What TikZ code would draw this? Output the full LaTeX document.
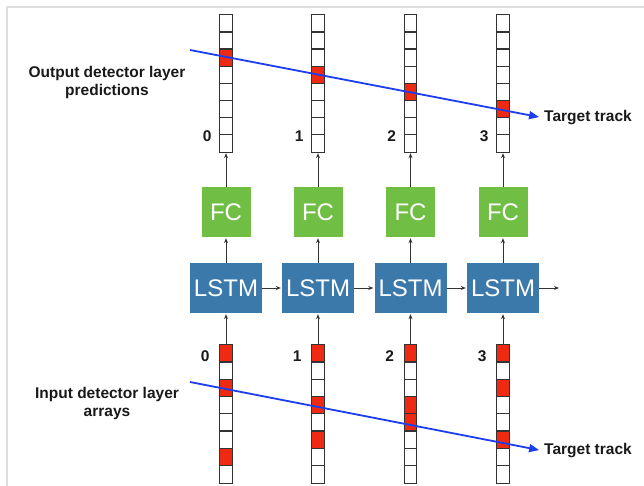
\documentclass[tikz,border=0pt]{standalone}
\usepackage{fontspec}
\setmainfont{Liberation Sans}
\usetikzlibrary{calc,arrows.meta}

\definecolor{fcgreen}{RGB}{112,190,68}
\definecolor{lstmblue}{RGB}{60,121,171}
\definecolor{cellred}{RGB}{238,42,18}
\definecolor{trackblue}{RGB}{28,62,238}
\definecolor{framegray}{RGB}{222,222,222}

\begin{document}
\begin{tikzpicture}[x=1pt,y=-1pt]
 \tikzstyle{arrow}   = [-{Stealth[length=5pt,width=4pt]},shorten >=1pt,line width=0.8pt,draw=black!80];
 \tikzstyle{track}   = [-{Triangle[length=10pt,width=8pt]},shorten >=5pt,line width=1.8pt,draw=trackblue];
 \tikzstyle{detcol}  = [minimum width=12pt,inner sep=0pt];
 \tikzstyle{colline} = [draw=black!80,line width=1.2pt];
 \tikzstyle{fcbox}   = [fill=fcgreen,minimum width=49pt,minimum height=50pt,inner sep=0pt,text=white,font=\fontsize{24}{24}\selectfont];
 \tikzstyle{lstmbox} = [fill=lstmblue,minimum width=72pt,minimum height=50pt,inner sep=0pt,text=white,font=\fontsize{24}{24}\selectfont];
 \tikzstyle{descr}   = [inner sep=0pt,text=black!90,font=\bfseries\fontsize{15.5}{18.5}\selectfont];
 \tikzstyle{idx}     = [inner sep=0pt,text=black!90,font=\bfseries\fontsize{15.5}{15.5}\selectfont];

 \useasboundingbox (0,0) rectangle (644,486);
 \draw[framegray,line width=1.8pt] (644,7) -- (7,7) -- (7,486);

 %% output detector layer
 \foreach \i/\x/\hit in {0/226/2,1/318/3,2/410.5/4,3/503/5} {
   \node[detcol,minimum height=137pt,name=out\i] at (\x,83.5) {};
   \fill[cellred] ($(out\i.north west)+(0,\hit*17.125)$) rectangle +(12,17.125);
   \draw[colline] (out\i.north west) rectangle (out\i.south east);
   \foreach \j in {1,...,7}
     \draw[colline] ($(out\i.north west)+(0,\j*17.125)$) -- +(12,0);
   \node[idx,anchor=east] at ($(out\i.south west)+(-8,-16)$) {\i};
 }

 %% input detector layer
 \foreach \i/\x/\hits in {0/226/{0,2,6},1/318/{0,3,5},2/410.5/{0,3,4},3/503/{0,2,5}} {
   \node[detcol,minimum height=138pt,name=inp\i] at (\x,414) {};
   \foreach \j in \hits
     \fill[cellred] ($(inp\i.north west)+(0,\j*17.25)$) rectangle +(12,17.25);
   \draw[colline] (inp\i.north west) rectangle (inp\i.south east);
   \foreach \j in {1,...,7}
     \draw[colline] ($(inp\i.north west)+(0,\j*17.25)$) -- +(12,0);
   \node[idx,anchor=east] at ($(inp\i.north west)+(-10,11)$) {\i};
 }

 %% network
 \foreach \i/\x in {0/226,1/318,2/410.5,3/503} {
   \node[fcbox,name=fc\i] at (\x,212) {FC};
   \node[lstmbox,name=lstm\i] at (\x,288) {LSTM};
   \path (inp\i) edge [arrow] (lstm\i);
   \path (lstm\i) edge [arrow] (fc\i);
   \path (fc\i) edge [arrow] (out\i);
 }
 \coordinate (lstmout) at (560,288);
 \path (lstm0) edge [arrow] (lstm1);
 \path (lstm1) edge [arrow] (lstm2);
 \path (lstm2) edge [arrow] (lstm3);
 \path (lstm3) edge [arrow] (lstmout);

 %% labels
 \node[descr,align=center,name=outlbl] at (107,82.5) {Output detector layer\\predictions};
 \node[descr,align=center,name=inlbl] at (107,403.5) {Input detector layer\\arrays};

 %% target tracks
 \node[descr,anchor=west,name=tt1] at (544,118) {Target track};
 \node[descr,anchor=west,name=tt2] at (544,451) {Target track};
 \coordinate (trk1) at (190,50);
 \coordinate (trk2) at (190,382);
 \draw[track] (trk1) -- (tt1.west);
 \draw[track] (trk2) -- (tt2.west);

\end{tikzpicture}
\end{document}
